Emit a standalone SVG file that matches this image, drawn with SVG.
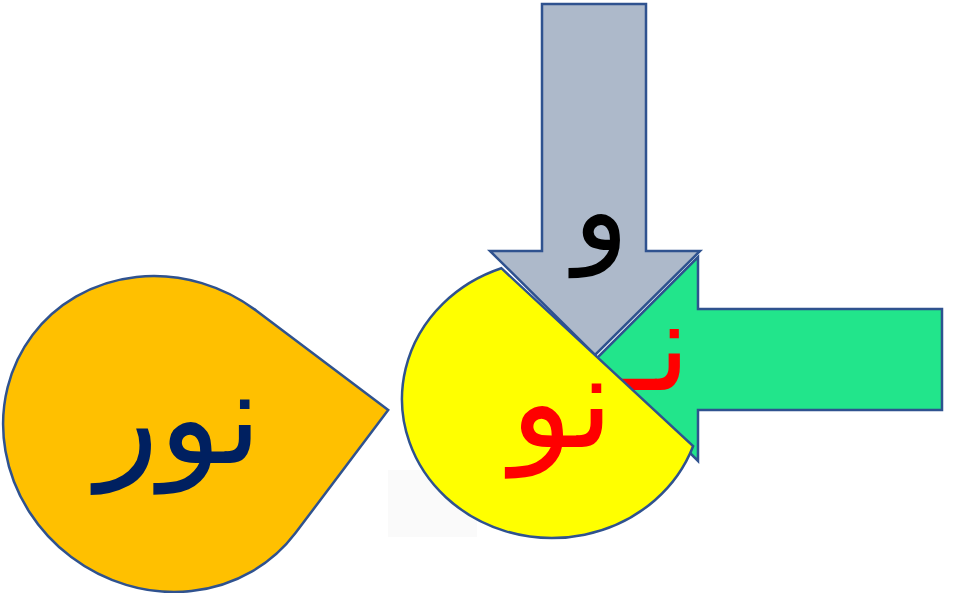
<svg xmlns="http://www.w3.org/2000/svg" width="953" height="593" viewBox="0 0 953 593">
<style>
.shape{stroke:#2F528F;stroke-width:2.5;stroke-linejoin:miter}
.lbl{font-family:"DejaVu Sans",sans-serif;text-anchor:middle}
</style>
<rect width="953" height="593" fill="#FFFFFF"/>
<g id="teardrop">
<path class="shape" fill="#FFC000" transform="translate(164,434) rotate(37)" d="M -164.6,0 A 164.6 154.1 0 0 1 0,-154.1 L 164.6,-154.1 L 164.6,0 A 164.6 154.1 0 0 1 0,154.1 A 164.6 154.1 0 0 1 -164.6,0 Z"/>
<text class="lbl" x="179" y="463" font-size="130" fill="#002060">نور</text>
</g>
<rect x="388" y="470" width="89" height="67" fill="#FAFAFA"/>
<g id="arrow-down">
<path class="shape" fill="#ADB9CA" d="M542,4 L646,4 L646,251 L700,251 L595,355 L490,251 L542,251 Z"/>
<text class="lbl" x="601" y="250" font-size="115" fill="#000000">و</text>
</g>
<g id="arrow-left">
<path class="shape" fill="#22E58B" d="M942,309 L698,309 L698,257 L596,359 L698,461 L698,410 L942,410 Z"/>
<text class="lbl" x="655" y="390" font-size="125" fill="#FF0000">نـ</text>
</g>
<g id="pie">
<path class="shape" fill="#FFFF00" d="M501.3,268.2 A150 139 0 1 0 693.1,446.2 Z"/>
<text class="lbl" x="562" y="447" font-size="130" fill="#FF0000">نو</text>
</g>
</svg>
